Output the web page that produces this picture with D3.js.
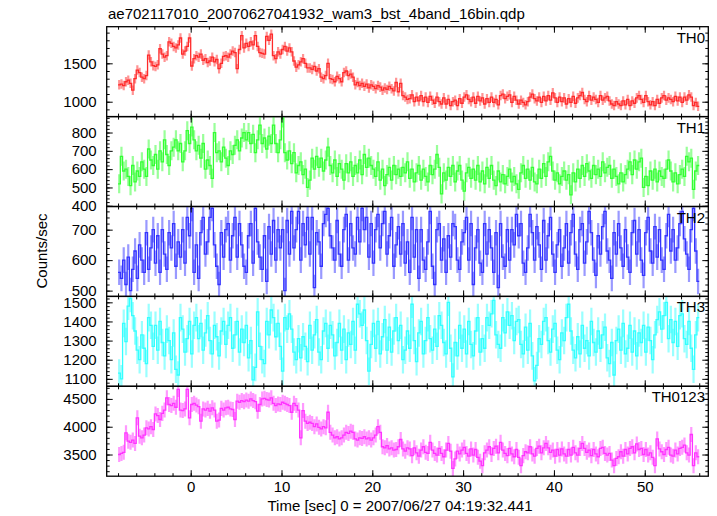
<!DOCTYPE html>
<html><head><meta charset="utf-8">
<script src="https://cdn.jsdelivr.net/npm/d3@7"></script>
<style>body{margin:0;background:#fff}svg{display:block}text{font-family:"Liberation Sans",Arial,Helvetica,sans-serif}</style>
</head><body><svg id="c" width="717" height="516"></svg>
<script>
const title = "ae702117010_20070627041932_wam3_bst_4band_16bin.qdp";
const xLabel = "Time [sec] 0 = 2007/06/27 04:19:32.441";
const yLabel = "Counts/sec";
const bandNames = ["TH0","TH1","TH2","TH3","TH0123"];
const bandColors = ["#ff2a2a","#33ff33","#3333ff","#33ffff","#ff33ff"];
const binStart = -7.875, binWidth = 0.25;
const xDomain = [-9.25, 57];
const xMajorTicks = [0,10,20,30,40,50];
const yDomains = [[806,1977],[396,887],[481,776],[1061,1531],[3110,4727]];
const yMajorTicks = [[1000,1500],[400,500,600,700,800],[500,600,700],[1100,1200,1300,1400,1500],[3500,4000,4500]];
const yMinorStep = [100,20,20,20,100];
const errHalf = [62,52,42,72,135];

const TH0 = [
1220,1230,1210,1260, 1280,1240,1150,1300, 1412,1380,1320,1300, 1340,1608,1520,1470,
1460,1480,1690,1620, 1580,1600,1780,1760, 1720,1700,1740,1830, 1620,1660,1720,1830,
1465,1560,1600,1580, 1620,1540,1560,1510, 1530,1580,1520,1550, 1430,1500,1590,1600,
1580,1620,1660,1640, 1430,1680,1860,1700, 1760,1720,1780,1740, 1860,1720,1640,1630,
1620,1850,1800,1880, 1600,1560,1650,1620, 1680,1720,1660,1700, 1650,1530,1450,1480,
1520,1560,1500,1440, 1440,1420,1460,1400, 1430,1320,1300,1340, 1500,1300,1290,1260,
1330,1300,1260,1380, 1400,1340,1360,1320, 1220,1250,1210,1240, 1200,1230,1180,1220,
1200,1170,1210,1190, 1150,1180,1160,1200, 1170,1140,1250,1130, 1239,1080,1060,1030,
1040,1090,1000,1060, 1010,1080,1000,1060, 990,1070,1020,980, 1060,1000,970,1050,
970,1030,950,1000, 1020,950,1040,980, 1060,1090,1030,1000, 1060,980,1070,1010,
1050,970,1040,990, 1060,990,1030,960, 1080,1100,1040,1070, 1090,990,1070,1020,
970,1020,990,960, 1000,1060,1100,1040, 1010,1060,990,1070, 1010,1080,1020,1115,
1050,990,1060,1000, 1050,970,1040,990, 1070,980,1050,1080, 1120,1030,1000,1080,
1020,1060,1030,990, 1080,1020,1050,1070, 1010,970,950,1000, 970,950,1010,960,
1030,950,1010,980, 1050,1080,1030,990, 1080,1000,960,1000, 950,1030,980,1050,
1080,1020,1050,1030, 1000,1070,1010,1060, 990,1060,1020,1090, 1060,950,990,940];

const TH1 = [
520,670,590,600, 560,510,620,530, 590,560,640,600, 560,710,650,620,
680,600,700,640, 760,680,620,700, 720,760,700,740, 640,700,810,740,
830,760,700,730, 660,740,600,650, 620,550,800,690, 700,640,720,660,
620,700,680,730, 760,700,770,800, 760,800,740,790, 690,760,840,740,
770,710,780,740, 840,740,690,760, 880,690,650,700, 630,690,580,620,
640,570,600,500, 540,660,600,670, 610,660,590,650, 720,620,580,650,
560,630,600,540, 630,580,640,560, 620,580,650,570, 680,610,660,620,
600,560,640,540, 600,510,570,610, 540,620,570,600, 560,610,580,640,
550,600,530,580, 620,540,600,560, 530,620,570,600, 680,610,465,580,
540,610,560,620, 530,590,620,540, 480,580,610,550, 600,540,620,530,
590,520,610,550, 620,540,510,590, 530,570,520,560, 600,530,560,520,
490,580,620,550, 600,540,610,530, 520,600,550,630, 560,640,670,590,
540,580,520,560, 590,540,570,460, 580,530,600,550, 620,560,630,590,
550,620,570,600, 560,640,580,610, 620,550,600,560, 520,580,530,570,
600,640,570,650, 600,640,660,500, 560,510,590,540, 600,530,590,560,
550,600,650,590, 530,580,520,570, 600,560,670,640, 660,490,590,620];

const TH2 = [
560,540,600,520, 610,500,570,630, 540,650,600,560, 690,570,640,700,
590,680,560,700, 620,570,690,640, 720,580,660,610, 700,590,740,680,
770,560,650,540, 690,740,620,660, 740,770,650,580, 520,690,610,700,
720,600,680,740, 610,720,650,580, 560,680,720,590, 770,660,610,570,
680,530,710,620, 730,600,700,640, 700,500,730,620, 760,640,700,760,
600,720,650,740, 620,740,510,690, 660,580,720,750, 770,680,640,600,
730,620,580,700, 750,600,720,640, 620,740,660,770, 700,740,610,720,
590,700,750,640, 720,760,620,680, 740,580,650,710, 620,720,590,660,
560,740,610,700, 540,700,600,570, 660,760,580,520, 700,720,600,670,
560,680,610,720, 710,600,570,660, 690,740,600,720, 520,640,700,590,
560,720,620,700, 640,560,690,510, 720,610,580,700, 600,700,650,750,
680,720,590,560, 640,750,690,600, 710,650,570,730, 600,680,740,620,
560,650,700,580, 640,720,590,690, 750,620,570,700, 720,590,660,760,
690,600,550,680, 620,710,760,630, 600,540,690,620, 720,640,580,700,
610,560,690,730, 620,700,600,550, 690,740,630,590, 710,610,700,600,
570,680,750,630, 700,600,640,720, 760,670,620,570, 700,770,630,530];

const TH3 = [
1130,1100,1390,1295, 1480,1520,1430,1350, 1250,1200,1330,1260, 1180,1420,1380,1270,
1380,1250,1400,1290, 1220,1360,1300,1200, 1340,1150,1120,1420, 1360,1240,1310,1400,
1230,1380,1420,1310, 1390,1250,1340,1430, 1300,1230,1380,1320, 1220,1350,1400,1280,
1380,1420,1260,1330, 1400,1240,1360,1290, 1380,1210,1300,1095, 1160,1450,1270,1200,
1180,1400,1330,1460, 1420,1320,1390,1270, 1140,1420,1360,1440, 1360,1240,1200,1310,
1210,1320,1270,1190, 1380,1250,1330,1410, 1240,1200,1350,1390, 1260,1380,1330,1220,
1290,1390,1250,1360, 1200,1340,1280,1400, 1250,1490,1440,1380, 1460,1300,1140,1280,
1390,1260,1400,1230, 1320,1410,1250,1370, 1240,1350,1420,1300, 1380,1200,1250,1350,
1260,1490,1300,1190, 1340,1400,1230,1300, 1420,1310,1250,1360, 1270,1430,1380,1290,
1230,1500,1260,1110, 1290,1220,1380,1260, 1360,1230,1400,1280, 1220,1350,1420,1240,
1310,1260,1420,1380, 1440,1510,1330,1280, 1260,1420,1340,1450, 1380,1430,1300,1400,
1410,1280,1230,1370, 1250,1390,1220,1090, 1170,1310,1280,1400, 1420,1300,1240,1360,
1390,1250,1200,1340, 1300,1420,1490,1350, 1250,1210,1320,1230, 1380,1260,1300,1220,
1400,1290,1240,1350, 1260,1330,1370,1210, 1180,1290,1120,1300, 1360,1250,1390,1230,
1260,1380,1240,1350, 1220,1340,1290,1380, 1240,1370,1300,1200, 1330,1410,1450,1360,
1430,1500,1310,1410, 1290,1400,1270,1430, 1440,1310,1280,1400, 1260,1150,1330,1420];

const TH0123 = [
3500,3520,3540,3890, 3740,3720,3760,3700, 4160,3830,3800,3850, 3980,3960,4000,3950,
4230,4200,4130,4240, 4300,4520,4400,4380, 4420,4350,4670,4300, 4290,4320,4670,4160,
4400,4420,4390,4360, 4100,4320,4300,4330, 4280,4340,4300,4100, 4120,4330,4300,4340,
4350,4320,4310,4130, 4460,4440,4470,4450, 4480,4460,4500,4470, 4450,4280,4400,4500,
4510,4490,4480,4520, 4420,4380,4410,4400, 4440,4420,4400,4380, 4260,4420,4380,4300,
3800,4290,4100,4060, 4080,4060,4000,4050, 3990,3960,4000,3980, 4260,3900,3850,3800,
3820,3780,3800,3850, 3900,3880,3920,3900, 3780,3760,3800,3790, 3820,3780,3800,3760,
3800,3850,4000,3900, 3640,3620,3660,3600, 3620,3580,3590,3640, 3770,3600,3560,3620,
3600,3480,3620,3530, 3470,3580,3640,3540, 3520,3720,3580,3520, 3490,3610,3520,3460,
3580,3700,3560,3250, 3420,3560,3510,3580, 3630,3520,3470,3600, 3490,3590,3450,3380,
3300,3530,3580,3640, 3500,3610,3650,3530, 3720,3580,3520,3480, 3610,3510,3460,3590,
3450,3300,3480,3550, 3530,3640,3510,3470, 3610,3650,3530,3620, 3700,3620,3540,3580,
3470,3590,3490,3600, 3510,3470,3590,3490, 3630,3530,3490,3610, 3700,3610,3540,3580,
3480,3590,3510,3460, 3610,3630,3520,3490, 3520,3400,3300,3430, 3460,3550,3470,3590,
3510,3610,3640,3530, 3690,3590,3610,3500, 3590,3490,3530,3450, 3300,3780,3600,3550,
3500,3590,3630,3490, 3470,3580,3510,3610, 3630,3670,3530,3490, 3860,3300,3530,3460];

const series = [TH0, TH1, TH2, TH3, TH0123];

const FONT = '"Liberation Sans", Arial, Helvetica, sans-serif';
const svg = d3.select("#c");
const L = 106.7, R = 708.3, T = 26.7, PH = 89.9;
const x = d3.scaleLinear().domain(xDomain).range([L, R]);
const xMinor = d3.range(-8, 57, 2);

function addAxis(gen, tx, ty) {
  const a = svg.append("g").attr("transform", `translate(${tx},${ty})`).call(gen);
  a.select(".domain").remove();
  a.attr("font-size", 15).attr("font-family", FONT);
  a.selectAll("line").attr("stroke", "#000").attr("stroke-width", 1);
  a.selectAll("text").attr("fill", "#000");
  return a;
}

series.forEach((vals, p) => {
  const top = T + p * PH, bot = top + PH;
  const color = bandColors[p];
  const y = d3.scaleLinear().domain(yDomains[p]).range([bot, top]);
  const clipId = "clip" + p;
  svg.append("clipPath").attr("id", clipId).append("rect")
    .attr("x", L).attr("y", top).attr("width", R - L).attr("height", PH);
  const g = svg.append("g").attr("clip-path", `url(#${clipId})`);
  const data = vals.map((v, i) => ({ t: binStart + i * binWidth, v }));
  g.selectAll("line.err").data(data).join("line").attr("class", "err")
    .attr("x1", d => x(d.t)).attr("x2", d => x(d.t))
    .attr("y1", d => y(d.v - errHalf[p])).attr("y2", d => y(d.v + errHalf[p]))
    .attr("stroke", color).attr("stroke-opacity", 0.5).attr("stroke-width", 2.2);
  const stepPts = [{ t: data[0].t - binWidth / 2, v: data[0].v }, ...data,
                   { t: data[data.length - 1].t + binWidth / 2, v: data[data.length - 1].v }];
  const line = d3.line().x(d => x(d.t)).y(d => y(d.v)).curve(d3.curveStep);
  g.append("path").datum(stepPts).attr("d", line)
    .attr("fill", "none").attr("stroke", color).attr("stroke-width", 1.3);

  const [lo, hi] = yDomains[p];
  const st = yMinorStep[p];
  const yMinor = d3.range(Math.ceil(lo / st) * st, hi, st);
  addAxis(d3.axisLeft(y).tickValues(yMinor).tickSize(-3).tickFormat(""), L, 0);
  addAxis(d3.axisLeft(y).tickValues(yMajorTicks[p]).tickSize(-6).tickPadding(10).tickFormat(d3.format("d")), L, 0);
  addAxis(d3.axisRight(y).tickValues(yMinor).tickSize(-3).tickFormat(""), R, 0);
  addAxis(d3.axisRight(y).tickValues(yMajorTicks[p]).tickSize(-6).tickFormat(""), R, 0);
  addAxis(d3.axisTop(x).tickValues(xMinor).tickSize(-3).tickFormat(""), 0, top);
  addAxis(d3.axisTop(x).tickValues(xMajorTicks).tickSize(-6).tickFormat(""), 0, top);
  addAxis(d3.axisBottom(x).tickValues(xMinor).tickSize(-3).tickFormat(""), 0, bot);
  addAxis(d3.axisBottom(x).tickValues(xMajorTicks).tickSize(-6).tickPadding(5)
    .tickFormat(p === series.length - 1 ? d3.format("d") : ""), 0, bot);

  svg.append("rect").attr("x", L).attr("y", top).attr("width", R - L).attr("height", PH)
    .attr("fill", "none").attr("stroke", "#000").attr("stroke-width", 1.3);

  svg.append("text").attr("x", 705).attr("y", top + 16).attr("text-anchor", "end")
    .attr("font-size", 15).attr("font-family", FONT).attr("fill", "#000").text(bandNames[p]);
});

svg.append("text").attr("x", 108).attr("y", 19).attr("font-size", 15)
  .attr("font-family", FONT).attr("fill", "#000").text(title);
svg.append("text").attr("x", 400).attr("y", 511).attr("text-anchor", "middle").attr("font-size", 15)
  .attr("font-family", FONT).attr("fill", "#000").text(xLabel);
svg.append("text").attr("transform", "translate(47,251) rotate(-90)").attr("text-anchor", "middle")
  .attr("font-size", 15).attr("font-family", FONT).attr("fill", "#000").text(yLabel);
</script></body></html>
